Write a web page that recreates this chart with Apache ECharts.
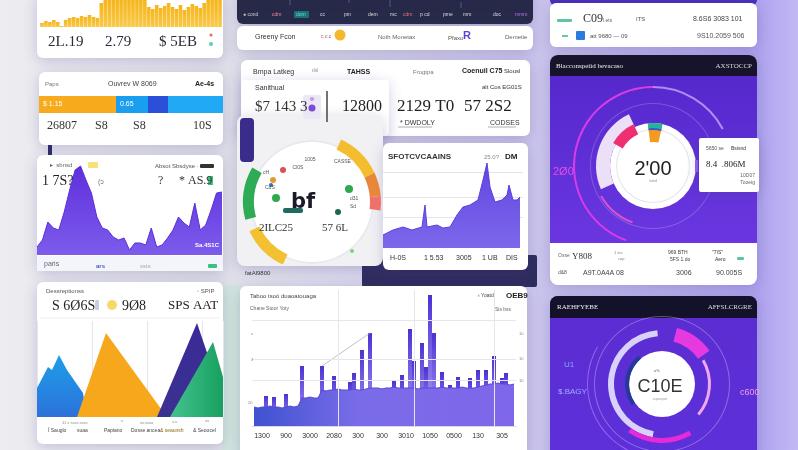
<!DOCTYPE html>
<html><head><meta charset="utf-8">
<script src="https://cdn.jsdelivr.net/npm/echarts@6/dist/echarts.min.js"></script>
<style>html,body{margin:0;padding:0;background:#e6e6ee}#c{width:798px;height:450px}</style>
</head><body><div id="c"></div>
<script>
// ---------- data ----------
const yellowBars = [4,6,5,7,5,1,7,9,10,9,11,10,12,10,9,24,27,30,30,30,30,30,28,30,30,30,30,20,18,22,19,21,24,20,18,22,17,20,23,21,19,24,27,30,30,30];
const splitBar = [77,32,20,55];
const splitBarNames = ['$ 1.15','0.65','',''];
const purpleArea = [8,15,33,27,25,43,65,85,89,75,62,38,27,25,18,15,17,5,12,12,10,27,8,10,17,25,38,32,28,52,25,30,45,62,63];
const triBlue = [[0,29],[11,50],[15,47],[22,62],[30,47],[46,24],[50,0]];
const triOrange = [[40,0],[69,84],[130,0]];
const triPurple = [[120,0],[160,94],[185,20],[185,0]];
const triGreen = [[133,0],[176,75],[186,40],[186,0]];
const gArea = [[0,13],[10,18],[20,21],[29,18],[39,21],[42,43],[44,21],[54,23],[60,20],[67,21],[74,33],[80,41],[87,43],[95,48],[100,68],[104,85],[107,61],[112,46],[119,48],[124,53],[126,63],[130,48],[134,48],[137,51]];
const gLabels = ['H-0S','1 5.53','3005','1 UB','DIS'];
const hBase = [19,18,19,19,20,19,19,18,19,20,19,20,28,28,29,28,28,36,35,36,36,37,36,36,36,37,36,36,37,38,38,38,37,38,38,39,38,38,38,38,38,37,38,38,38,38,38,39,38,38,38,38,39,38,38,38,39,40,41,42,42,43,42,42,41,42];
const hSpikes = {3:30,5:29,8:32,12:60,17:60,20:50,24:44,25:53,27:76,29:93,35:45,37:51,39:97,40:65,42:83,43:59,44:131,45:93,47:54,49:41,51:49,54:48,56:56,58:56,60:70,62:48,63:53};
const hTrend = {17:60,29:93};
const hLabels = ['1300','900','3000','2080','300','300','3010','1050','0500','130','305'];
const gaugeArcs = [25,40,20,12,108,40,10,45,60];
const ringJOuter = [62,138,160];
const ringJBand = [246,89,25];
const ringJPink = [300,35,25];
const ringJBlock = [20,340];
const ringJFaint = [200,40,120];
const ringKLight = [190,165,5];
const ringKNavy = [235,85,40];
const ringKMagenta = [15,40,305];
const ringKBottom = [150,65,145];
const ringKRight = [60,70,230];
const ringKOuter = [180,120,60];

// ---------- helpers ----------
const SERIF = 'Liberation Serif', SANS = 'Liberation Sans';
function rect(x,y,w,h,fill,r,shadow,z){return {type:'rect',silent:true,z:z||0,shape:{x:x,y:y,width:w,height:h,r:r===undefined?6:r},style:{fill:fill,shadowBlur:shadow?14:0,shadowColor:'rgba(70,60,140,0.25)',shadowOffsetY:shadow?3:0}};}
function circ(cx,cy,r,fill,z){return {type:'circle',silent:true,z:z||50,shape:{cx:cx,cy:cy,r:r},style:{fill:fill}};}
function ln(x1,y1,x2,y2,c,w,z){return {type:'line',silent:true,z:z||50,shape:{x1:x1,y1:y1,x2:x2,y2:y2},style:{stroke:c,lineWidth:w||1}};}
function txt(x,y,s,size,color,o){o=o||{};return {type:'text',silent:true,z:100,x:x,y:y,style:{text:s,fontSize:size,fill:color,fontFamily:o.f||SANS,fontWeight:o.w||'normal',textAlign:o.a||'left',textVerticalAlign:'middle',verticalAlign:'middle'}};}
function lg(c1,c2,horiz){return {type:'linear',x:0,y:0,x2:horiz?1:0,y2:horiz?0:1,colorStops:[{offset:0,color:c1},{offset:1,color:c2}]};}
function ring(center,radius,values,colors,start,z){return {type:'pie',center:center,radius:radius,startAngle:start===undefined?90:start,clockwise:true,silent:true,z:z||3,label:{show:false},labelLine:{show:false},itemStyle:{borderWidth:0},emphasis:{disabled:true},data:values.map(function(v,i){return {value:v,itemStyle:{color:colors[i],borderWidth:0}};})};}

const G = [];
// background
G.push({type:'rect',silent:true,z:-100,shape:{x:0,y:0,width:798,height:450},style:{fill:{type:'linear',x:0,y:0,x2:1,y2:0,colorStops:[{offset:0,color:'#ececf1'},{offset:0.27,color:'#e0e1e9'},{offset:0.66,color:'#cbc6ec'},{offset:0.95,color:'#aea3ee'},{offset:1,color:'#c2b9f4'}]}}});
G.push(rect(222,285,20,165,'rgba(200,232,215,0.6)',0,false,-50));
// ---- Card A
G.push(rect(37,-8,186,66,'#ffffff',6,true));
G.push(txt(48,42,'2L.19',15,'#2a2a3a',{f:SERIF}), txt(105,42,'2.79',15,'#2a2a3a',{f:SERIF}), txt(159,42,'$ 5EB',15,'#2a2a3a',{f:SERIF}));
G.push(circ(211,35,1.5,'#e07050'), circ(211,44,2,'#5cd0b0'));
// ---- Card B
G.push(rect(39,72,184,73,'#ffffff',6,true));
G.push(txt(45,84,'Paps',6,'#777'), txt(108,84,'Ouvrev W 8069',7,'#444'), txt(195,84,'Ae-4s',7,'#222',{w:'bold'}));
G.push(txt(47,126,'26807',12,'#333',{f:SERIF}), txt(95,126,'S8',12,'#333',{f:SERIF}), txt(133,126,'S8',12,'#333',{f:SERIF}), txt(193,126,'10S',12,'#333',{f:SERIF}));
G.push(rect(48,145,4,10,'#2d2a6a',0));
// ---- Card C
G.push(rect(37,155,186,116,'#ffffff',6,true));
G.push(rect(37,256,186,15,'#f4f5fb',0,false,1));
G.push(txt(50,165,'▸  sbnsd',6,'#666'), rect(88,162,10,6,'#f6e27a',1,false,50), txt(155,166,'Absot Sbsdyse ·',6,'#555'), rect(200,164,14,4,'#333',1,false,50));
G.push(txt(42,181,'1 7S?',14,'#222',{f:SERIF}), txt(98,182,'(ᴐ',7,'#777'), txt(158,181,'?',12,'#333',{f:SERIF}), txt(179,181,'* AS.9',12,'#333',{f:SERIF}), rect(208,176,5,9,'#3cc080',0,false,50));
G.push(txt(195,245,'Sa.4S1C',6,'#ffffff',{w:'bold'}));
G.push(txt(44,264,'paris',7,'#667'), txt(96,266,'ars',6,'#4a5ab8',{w:'bold'}), txt(140,266,'ssts',6,'#aaa'), rect(208,264,9,4,'#3cc080',1,false,50));
// ---- Card D
G.push(rect(37,282,186,162,'#ffffff',6,true));
G.push(txt(46,291,'Dessreptionss',6,'#555'), txt(52,306,'S 6Ø6S',14,'#222',{f:SERIF}), rect(95,300,4,10,'#c8cde0',1,false,50), circ(112,305,5,'#f7d96a'), txt(122,306,'9Ø8',14,'#222',{f:SERIF}), txt(168,306,'SPS AAT',13,'#222',{f:SERIF}), txt(197,291,'◦ SPIP',6,'#555'));
G.push(ln(40,318,220,318,'#eeeeee',1,1));
G.push(txt(62,423,'11 s ssss ssss',4,'#888'), txt(120,421,'·s',4,'#888'), txt(140,423,'ss.ssso',4,'#888'), txt(172,422,'s.s',4,'#888'), txt(205,421,'ss',4,'#888'));
G.push(txt(48,431,'Ï Sauglo',5,'#444'), txt(77,431,'suaa',5,'#444'), txt(104,431,'Papiano',5,'#444'), txt(131,431,'Dosse ancea',5,'#444'), txt(160,431,'& seaunsh',5,'#8a6a10'), txt(193,431,'& Seoocel',5,'#444'));
// ---- Top dark bar + E
G.push(rect(237,-10,296,34,'#262947',6,true));
var tops=[['● cond',243,'#ccc'],['cdm',272,'#f08aa0'],['cc',320,'#ddd'],['pm',344,'#ddd'],['dem',368,'#ddd'],['mc',390,'#ddd'],['cdm',403,'#f07070'],['p cd',420,'#ddd'],['pme',443,'#ddd'],['mm',463,'#ddd'],['doc',493,'#ddd'],['mmm',515,'#b070f0']];
tops.forEach(function(t){G.push(txt(t[1],15,t[0],5,t[2]));});
G.push(rect(294,11,15,7,'#1d6f78',1,false,50), txt(296,15,'dom',5,'#5fe0d0'));
G.push(ln(290,0,290,5,'#555a80',1), ln(349,0,349,3,'#555a80',1), ln(390,0,390,7,'#555a80',1), ln(461,2,461,8,'#555a80',1));
G.push(rect(237,26,296,24,'#ffffff',6,true));
G.push(txt(255,37,'Greeny Fcon',7,'#333'), txt(321,37,'c.c.c',5,'#a55'), circ(340,35,5.5,'#f5b82a'), txt(378,37,'Noth Monetax',6,'#666'), txt(448,38,'Pfaxo',6,'#555'), txt(463,36,'R',11,'#5545d8',{w:'bold'}), txt(505,37,'Demetie',6,'#666'));
// ---- Card F
G.push(rect(241,60,289,76,'#ffffff',6,true));
G.push(rect(241,80,148,56,'#ffffff',4,true));
G.push(txt(253,72,'Bmpa Latkeg',7,'#333'), txt(312,71,'ılsl',5,'#888'), txt(347,72,'TAHSS',7,'#222',{w:'bold'}), txt(413,72,'Frogtpa',6,'#777'), txt(462,71,'Coenuil C75',7,'#222',{w:'bold'}), txt(504,71,'Slousl',6,'#333'));
G.push(txt(255,88,'Sanithual',7,'#333'), txt(482,87,'alt Cos EG01S',6,'#333'));
G.push(txt(255,107,'$7 143 3',15,'#333',{f:SERIF}), rect(303,95,18,24,'#ebe7f6',3,false,50), circ(312,108,3.5,'#7a4ad8'), circ(312,99,2,'#c79ae0'), ln(327,91,327,122,'#444',1.5));
G.push(txt(342,107,'12800',16,'#222',{f:SERIF}), txt(397,107,'2129 T0',17,'#222',{f:SERIF}), txt(464,107,'57 2S2',17,'#222',{f:SERIF}));
G.push(txt(400,123,'* DWDOLY',7,'#333'), ln(398,127,432,127,'#999',0.8), txt(490,123,'CODSES',7,'#333'), ln(488,127,516,127,'#999',0.8));
// ---- Gauge card
G.push(rect(237,115,146,151,'#f1f1f4',8,true));
G.push(rect(240,118,14,44,'#3a2c8a',4,false,1));
G.push(circ(312,202,62,'#ffffff',1));
G.push(txt(310,160,'1005',5,'#555',{a:'center'}), txt(334,162,'CASSE',5,'#555'), txt(298,168,'Cl0S',5,'#555',{a:'center'}), txt(263,173,'cH',5,'#555'), txt(265,188,'CdS',5,'#555'), txt(350,199,'d31',5,'#555'), txt(350,207,'Sd',5,'#555'));
G.push(txt(303,203,'bf',21,'#1a1a2a',{a:'center',w:'bold',f:'DejaVu Sans'}), txt(276,228,'2ILC25',11,'#333',{a:'center',f:SERIF}), txt(335,228,'57 6L',11,'#333',{a:'center',f:SERIF}));
G.push(circ(276,198,4,'#2fa84e'), circ(349,189,4,'#2fa84e'), circ(338,212,3,'#1a6a4a'), circ(352,251,2,'#7ed07a'), rect(283,208,20,5,'#1f6a60',2,false,50), circ(283,170,3,'#e05050'), circ(273,180,3,'#e59a30'), circ(271,185,2,'#3070c0'));
G.push(txt(245,273,'fatAl9800',6,'#333'));
// ---- Card G + dark zone
G.push(rect(362,255,175,32,'#2d2a5c',2,false,-1));
G.push(rect(383,143,145,127,'#ffffff',6,true));
G.push(txt(388,157,'SFOTCVCAAINS',8,'#333',{w:'bold'}), txt(484,157,'25.0?',6,'#888'), txt(505,157,'DM',8,'#222',{w:'bold'}));
var gx=[390,424,456,482,506];
gLabels.forEach(function(s,i){G.push(txt(gx[i],258,s,7,'#333'));});
// ---- Card H
G.push(rect(240,286,287,170,'#ffffff',6,true));
G.push(txt(250,296,'Taboo tsoó duaoatouaga',6,'#444'), txt(250,309,'Chane Stoor Yoty',5,'#666'), txt(478,296,'‹ Yoatd',5,'#444'), txt(506,296,'OEB9',8,'#222',{w:'bold'}), txt(495,310,'Sis bss',5,'#666'));
G.push(txt(251,334,'s',4,'#888'), txt(251,360,'3',4,'#888'), txt(248,403,'20',4,'#888'), txt(519,334,'10',4,'#888'), txt(519,359,'10',4,'#888'), txt(519,381,'10',4,'#888'));
// ---- Card I
G.push(rect(550,-10,207,16,'#4a2db8',6,false));
G.push(rect(550,3,207,44,'#ffffff',6,true));
G.push(rect(557,19,15,3,'#5cc6a0',1,false,50), txt(583,19,'C09',12,'#333',{f:SERIF}), txt(603,21,'l.ets',5,'#666'), txt(636,19,'ITS',6,'#555'), txt(693,19,'8.6S6 3083 101',7,'#444'));
G.push(rect(562,35,6,2,'#66cc99',0,false,50), rect(576,31,9,9,'#2a7ae0',1,false,50), txt(590,36,'att 9680 — 09',6,'#555'), txt(697,36,'9S10.2059 506',7,'#555'));
// ---- Card J
G.push(rect(550,55,207,230,'#ffffff',8,true));
G.push(rect(550,75,207,168,lg('#5528cc','#6a36e0'),0,false,1));
G.push(rect(550,55,207,21,'#17132a',[8,8,0,0],false,1));
G.push(txt(556,66,'Blacconspeiid bevacaso',7,'#eeeeee',{f:SERIF}), txt(752,66,'AXSTOCCP',7,'#dddddd',{a:'right',f:SERIF}));
G.push(circ(653,166,43,'#ffffff',1));
G.push(txt(653,169,"2'00",20,'#222',{a:'center'}), txt(653,181,'sstd',4,'#888',{a:'center'}));
G.push(txt(553,172,'2Ø0',11,'#e24ee8'));
G.push(rect(699,138,60,54,'#ffffff',2,true,60), rect(695,160,3,12,'#8a5cf0',1,false,61));
G.push(txt(706,149,'5650 se',5,'#555'), txt(731,149,'Bsisnd',5,'#333'), txt(706,165,'8.4  .806M',9,'#222',{f:SERIF}), txt(755,176,'10D07',5,'#666',{a:'right'}), txt(755,183,'Tooeig',5,'#666',{a:'right'}));
G.push(txt(558,256,'Oxse',5,'#666'), txt(572,257,'Y808',9,'#333',{f:SERIF}), txt(614,253,'1 sts',4,'#888'), txt(618,259,'cop',4,'#888'), txt(668,253,'969 BTH',5,'#444'), txt(670,260,'5FS 1.do',5,'#444'), txt(712,253,'"7IS"',5,'#333'), txt(715,260,'Aero',5,'#333'), rect(737,257,7,3,'#5cc6a0',1,false,50));
G.push(txt(558,273,'d&8',5,'#555'), txt(583,273,'A9T.0A4A 08',7,'#444'), txt(676,273,'3006',7,'#444'), txt(716,273,'90.005S',7,'#444'));
// ---- Card K
G.push(rect(550,296,207,165,lg('#5a2cd0','#5e30da'),8,true));
G.push(rect(550,296,207,22,'#14112a',[8,8,0,0],false,1));
G.push(txt(557,307,'RAEHFYEBE',7,'#eeeeee',{f:SERIF}), txt(752,307,'AFFSLCRGRE',7,'#dddddd',{a:'right',f:SERIF}));
G.push(circ(662,384,33,'#ffffff',1));
G.push(txt(657,371,'o%',4,'#666',{a:'center'}), txt(660,387,'C10E',18,'#333',{a:'center'}), txt(660,399,'sspassport',3,'#999',{a:'center'}));
G.push(txt(564,365,'U1',8,'#8fa0ff'), txt(558,392,'$.BAGY',8,'#9fb0ff'), txt(740,393,'c600',9,'#f0a0e8'));

// ---------- charts ----------
const hCats = hBase.map(function(_,i){var k=(i-2)/6;return (k>=0&&k===Math.floor(k)&&k<hLabels.length)?hLabels[k]:'';});
const hSpikeData = hBase.map(function(_,i){return hSpikes[i]===undefined?'-':hSpikes[i];});
const hTrendData = hBase.map(function(_,i){return hTrend[i]===undefined?null:hTrend[i];});
const hide = {show:false};
const option = {
  animation:false,
  graphic:{elements:G},
  grid:[
    {left:40,top:0,width:182,height:27},
    {left:39,top:96,width:184,height:17},
    {left:37,top:160,width:185,height:95},
    {left:37,top:321,width:186,height:96},
    {left:383,top:160,width:140,height:88},
    {left:252,top:290,width:264,height:136}
  ],
  xAxis:[
    {gridIndex:0,type:'category',data:yellowBars.map(function(_,i){return i;}),show:false},
    {gridIndex:1,type:'value',min:0,max:184,show:false},
    {gridIndex:2,type:'category',boundaryGap:false,data:purpleArea.map(function(_,i){return i;}),show:false},
    {gridIndex:3,type:'value',min:0,max:186,interval:55,axisLine:hide,axisTick:hide,axisLabel:hide,splitLine:{show:true,lineStyle:{color:'#e6e6ea',width:1}}},
    {gridIndex:4,type:'value',min:0,max:140,show:false},
    {gridIndex:5,type:'category',data:hCats,axisTick:hide,axisLine:{lineStyle:{color:'#d8d8e0'}},axisLabel:{interval:0,fontSize:7,color:'#333',fontFamily:SANS,margin:7},splitLine:hide}
  ],
  yAxis:[
    {gridIndex:0,type:'value',min:0,max:27,show:false},
    {gridIndex:1,type:'category',data:['a'],show:false},
    {gridIndex:2,type:'value',min:0,max:95,show:false},
    {gridIndex:3,type:'value',min:0,max:96,show:false},
    {gridIndex:4,type:'value',min:0,max:88,show:false},
    {gridIndex:5,type:'value',min:0,max:136,show:false}
  ],
  series:[
    {type:'bar',xAxisIndex:0,yAxisIndex:0,data:yellowBars,barWidth:'92%',itemStyle:{color:lg('#f6b51c','#f9c94a')},silent:true},
  ].concat(splitBar.map(function(v,i){
    var cols=['#f6aa1c','#1a9ff0','#2b4fd8','#22a9f6'];
    return {type:'bar',xAxisIndex:1,yAxisIndex:1,stack:'s',barWidth:17,data:[v],itemStyle:{color:cols[i]},silent:true,
      label:{show:!!splitBarNames[i],position:'insideLeft',formatter:splitBarNames[i],fontSize:7,color:'#fff',fontFamily:SANS,distance:4}};
  })).concat([
    {type:'line',xAxisIndex:2,yAxisIndex:2,data:purpleArea,symbol:'none',silent:true,lineStyle:{color:'#5a30d8',width:1},areaStyle:{color:lg('#5e2fdc','#7d5cec'),opacity:1}},
    {type:'line',xAxisIndex:3,yAxisIndex:3,data:triBlue,symbol:'none',silent:true,lineStyle:{width:0},areaStyle:{color:lg('#1e9ee9','#2b72da'),opacity:1}},
    {type:'line',xAxisIndex:3,yAxisIndex:3,data:triOrange,symbol:'none',silent:true,lineStyle:{width:0},areaStyle:{color:'#f7a71c',opacity:1}},
    {type:'line',xAxisIndex:3,yAxisIndex:3,data:triPurple,symbol:'none',silent:true,lineStyle:{width:0},areaStyle:{color:lg('#3a2a98','#3a3290'),opacity:1}},
    {type:'line',xAxisIndex:3,yAxisIndex:3,data:triGreen,symbol:'none',silent:true,lineStyle:{width:0},areaStyle:{color:{type:'linear',x:0,y:0,x2:1,y2:0,colorStops:[{offset:0,color:'#45c28f'},{offset:1,color:'#17a060'}]},opacity:1}},
    {type:'line',xAxisIndex:4,yAxisIndex:4,data:gArea,symbol:'none',silent:true,lineStyle:{color:'#5b3fe0',width:1},areaStyle:{color:lg('#6444e2','#7c68ea'),opacity:1},
      markLine:{silent:true,symbol:'none',label:{show:false},lineStyle:{color:'#e4e4ec',type:'solid',width:1},data:[{yAxis:76},{yAxis:51},{yAxis:31}],z:1}},
    {type:'line',xAxisIndex:5,yAxisIndex:5,data:hBase,symbol:'none',silent:true,step:false,lineStyle:{color:'#5a48d8',width:1},areaStyle:{color:{type:'linear',x:0,y:0,x2:1,y2:0,colorStops:[{offset:0,color:'#3f52d0'},{offset:0.4,color:'#7a6ce8'},{offset:1,color:'#7f66ea'}]},opacity:1},
      markLine:{silent:true,symbol:'none',label:{show:false},lineStyle:{color:'#e6e6ee',type:'solid',width:1},data:[{yAxis:106},{yAxis:67},{yAxis:46},{xAxis:21},{xAxis:40},{xAxis:60}]}},
    {type:'bar',xAxisIndex:5,yAxisIndex:5,data:hSpikeData,barWidth:4,silent:true,itemStyle:{color:lg('#4a32d4','rgba(140,120,240,0.75)')}},
    {type:'line',xAxisIndex:5,yAxisIndex:5,data:hTrendData,connectNulls:true,symbol:'none',silent:true,lineStyle:{color:'#b0b0c0',width:0.8}},
    // gauge ring
    ring([312,202],[60,62],[360],['#e8e8ee']),
    ring([312,202],[58,69],gaugeArcs,['transparent','#f4bd30','#e8873a','#f0706a','transparent','#f2c030','transparent','#2faa55','transparent']),
    // ring J
    ring([653,166],[78,80],ringJOuter,['rgba(205,175,255,0.75)','transparent','#d83ce8']),
    ring([653,166],[62,63],[360],['rgba(255,255,255,0.2)']),
    ring([653,166],[59,61],ringJFaint,['transparent','#e050d0','transparent']),
    ring([653,166],[43,57],ringJBand,['transparent','#ecdff8','transparent']),
    ring([653,166],[36,37],[360],['#e4e4ec']),
    ring([653,166],[35,46],ringJPink,['transparent','#ef2f72','transparent']),
    ring([653,166],[24,40],ringJBlock,['#f59a20','transparent'],97),
    ring([653,166],[38,43],ringJBlock,['#25b39b','transparent'],97),
    ring([653,166],[36,38],ringJBlock,['#2a5fd8','transparent'],97),
    // ring K
    ring([662,384],[67,68],[360],['rgba(255,255,255,0.3)']),
    ring([662,384],[74,75],ringKOuter,['transparent','rgba(220,150,255,0.5)','transparent']),
    ring([662,384],[48,54],ringKLight,['transparent','#d8d2fa','transparent']),
    ring([662,384],[33,37],ringKNavy,['transparent','#233a9a','transparent']),
    ring([662,384],[44,58],ringKMagenta,['transparent','#e43ae0','transparent']),
    ring([662,384],[54,59],ringKBottom,['transparent','#e52ad8','transparent']),
    ring([662,384],[46,49],ringKRight,['transparent','#f0a8f0','transparent'])
  ])
};
const chart = echarts.init(document.getElementById('c'),null,{renderer:'canvas'});
chart.setOption(option);
</script></body></html>
